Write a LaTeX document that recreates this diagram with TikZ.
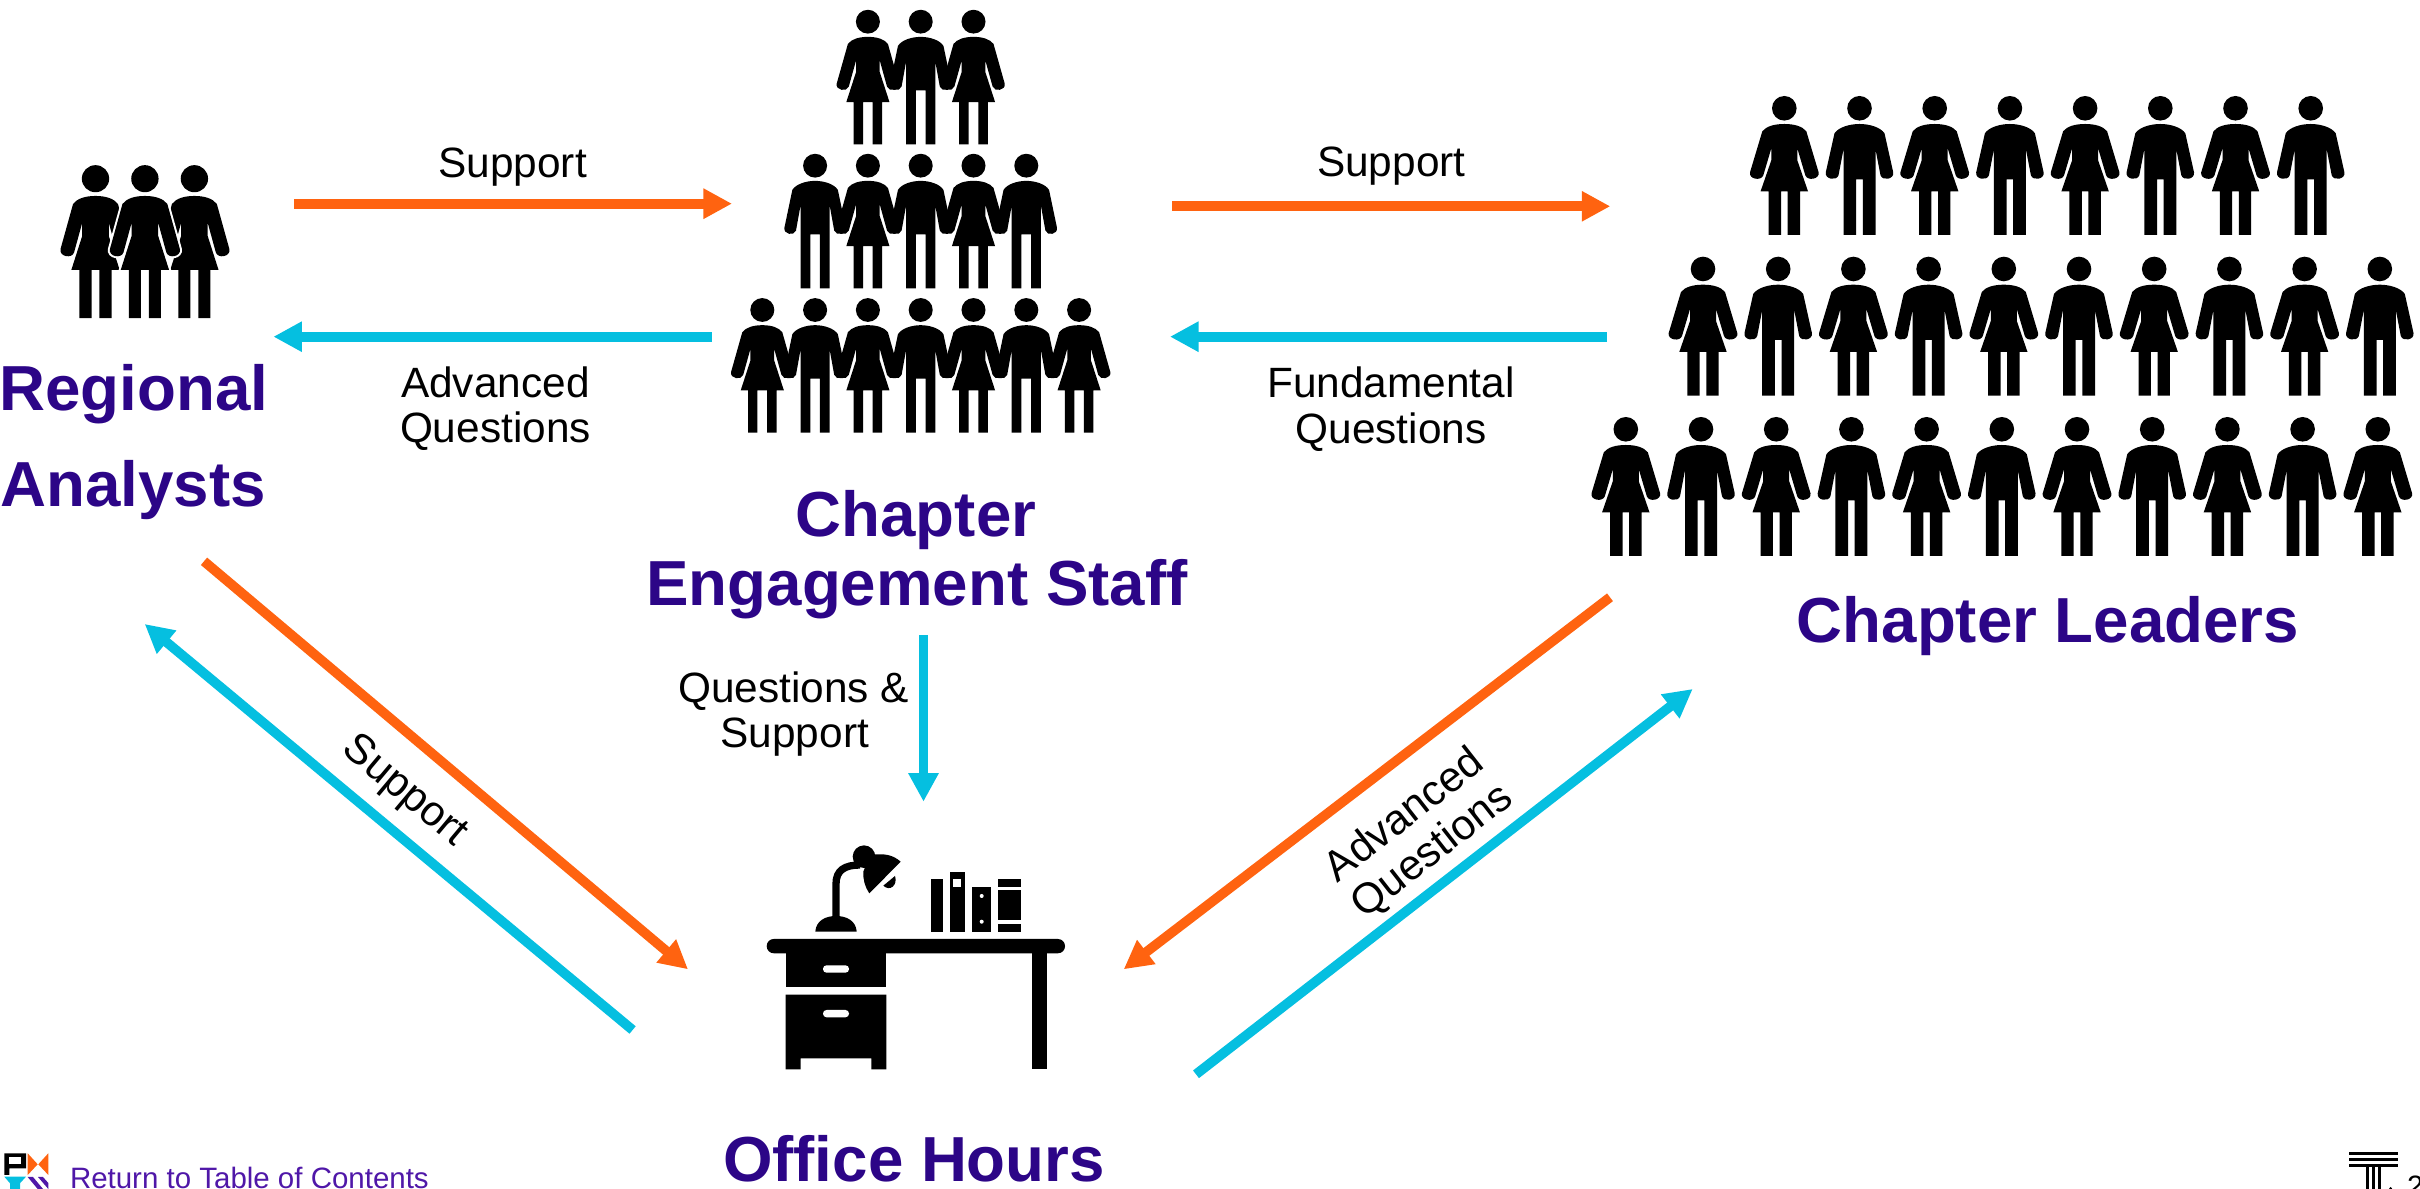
\documentclass[tikz,border=0pt]{standalone}
\usepackage{fontspec}
\setmainfont{Liberation Sans}
\usetikzlibrary{arrows.meta}

\definecolor{pmiorange}{HTML}{FF6310}
\definecolor{pmicyan}{HTML}{05BFE0}
\definecolor{pmipurple}{HTML}{2C0587}
\definecolor{linkpurple}{HTML}{4F17A8}

\newcommand{\headrx}{12.3}
\newcommand{\legin}{3.3}

\tikzset{
  flow/.style={line width=0.97mm, -{Triangle[length=2.85mm, width=2.85mm]}},
  support/.style={flow, pmiorange},
  question/.style={flow, pmicyan},
  labeltxt/.style={inner sep=0, align=center, font=\fontsize{12.05}{12.87}\selectfont},
  titletxt/.style={inner sep=0, align=center, text=pmipurple, font=\bfseries\fontsize{18.1}{19.65}\selectfont},
  woman/.pic={
    \path[fill=black, pic actions] (0,0) ellipse ({\headrx} and 12.3);
    \path[fill=black, pic actions] (0,15.7) .. controls (10,15.7) and (18,18) .. (22,23) -- (34.3,64)
      .. controls (35.8,71) and (23,73) .. (21,67) -- (13,40) -- (13,52) -- (23.7,83) -- (15.7,83)
      -- (15.7,126.7) -- (\legin,126.7) -- (\legin,83) -- (-\legin,83) -- (-\legin,126.7) -- (-15.7,126.7)
      -- (-15.7,83) -- (-23.7,83) -- (-13,52) -- (-13,40) -- (-21,67)
      .. controls (-23,73) and (-35.8,71) .. (-34.3,64) -- (-22,23)
      .. controls (-18,18) and (-10,15.7) .. (0,15.7) -- cycle;
  },
  man/.pic={
    \path[fill=black, pic actions] (0,0) ellipse ({\headrx} and 12.3);
    \path[fill=black, pic actions] (0,15.7) .. controls (10,15.7) and (21,19) .. (25,25) -- (33.7,64)
      .. controls (35,71) and (23,73) .. (21,67) -- (16,41) -- (16,126.7) -- (\legin,126.7)
      -- (\legin,71) -- (-\legin,71) -- (-\legin,126.7) -- (-16,126.7) -- (-16,41) -- (-21,67)
      .. controls (-23,73) and (-35,71) .. (-33.7,64) -- (-25,25)
      .. controls (-21,19) and (-10,15.7) .. (0,15.7) -- cycle;
  },
}

\begin{document}
\begin{tikzpicture}[x=0.01cm, y=-0.01cm]
\useasboundingbox (0,0) rectangle (2420,1189);
\clip (0,0) rectangle (2420,1189);

% regional analysts
\begin{scope}
\renewcommand{\headrx}{13.4}
\renewcommand{\legin}{3.9}
\pic[xscale=1.02, yscale=1.1] at (95.5,178.7) {woman};
\pic[xscale=1.02, yscale=1.1] at (194.4,178.7) {woman};
\pic[xscale=1.02, yscale=1.1, draw=white, line width=0.4mm] at (144.9,178.7) {woman};
\pic[xscale=1.02, yscale=1.1] at (144.9,178.7) {woman};
\end{scope}

% chapter engagement staff
\begin{scope}
\renewcommand{\headrx}{13.2}
\renewcommand{\legin}{5.3}
\foreach \row/\y/\kmax in {1/21.7/1, 2/165.7/2, 3/310/3} {
  \foreach \k in {-\kmax,...,\kmax} {
    \pgfmathtruncatemacro{\odd}{mod(abs(\k),2)}
    \ifnum\odd=1
      \pic[xscale=.91, yscale=.968] at ({920.7+\k*52.8},\y) {woman};
    \else
      \pic[xscale=.91, yscale=.968] at ({920.7+\k*52.8},\y) {man};
    \fi
  }
}
\end{scope}

% chapter leaders
\foreach \xstart/\y/\n in {1784.3/108.3/7, 1703/269/9, 1625.8/429.3/10} {
  \foreach \k in {0,...,\n} {
    \pgfmathtruncatemacro{\odd}{mod(\k,2)}
    \ifnum\odd=0
      \pic at ({\xstart+\k*75.2},\y) {woman};
    \else
      \pic at ({\xstart+\k*75.2},\y) {man};
    \fi
  }
}

% desk
\fill[rounded corners=2pt] (766.7,939) rectangle (1065,953.3);
\fill (785.7,950) rectangle (886.3,987);
\fill (785.7,994.7) -- (886.3,994.7) -- (886.3,1069.3) -- (871.3,1069.3) -- (871.3,1058.3)
  -- (800.7,1058.3) -- (800.7,1069.3) -- (785.7,1069.3) -- cycle;
\fill (1032,950) rectangle (1046.7,1069.3);
\fill[white, rounded corners=1pt] (823,965.3) rectangle (849,972.7);
\fill[white, rounded corners=1pt] (823,1010) rectangle (849,1017.3);

% books
\fill (931,879) rectangle (943,931.7);
\fill (949.7,871.7) rectangle (965,931.7);
\fill[white] (953.3,879) rectangle (961.3,886.7);
\fill (972.3,886.7) rectangle (991,931.7);
\fill[white] (981.7,896) circle (2);
\fill[white] (981.7,921.7) circle (2);
\fill (998,879) rectangle (1021,886.7);
\fill (998,890) rectangle (1021,920);
\fill (998,924) rectangle (1021,931.7);

% lamp
\fill (815.3,931.7) .. controls (816,921) and (825,916) .. (836,916)
  .. controls (847,916) and (856,921) .. (856.7,931.7) -- cycle;
\draw[line width=0.73mm] (836,925) -- (836,884) .. controls (836,870) and (845,865) .. (860,865);
\fill (864,856.7) circle (11.3);
\fill (869.3,893.3) -- (900.7,861.7) .. controls (893,855) and (885,853) .. (870,855)
  -- (863.3,871.7) .. controls (863,880) and (865,887) .. (869.3,893.3) -- cycle;
\fill (883.3,885.7) -- (895,876) .. controls (898,885) and (890,892) .. (883.3,885.7) -- cycle;

% titles
\node[titletxt, anchor=base] (regional) at (134,411) {Regional};
\node[titletxt, anchor=base] (analysts) at (133,507) {Analysts};
\node[titletxt, anchor=base] (chapter) at (916,536.7) {Chapter};
\node[titletxt, anchor=base] (engagement) at (917,606) {Engagement Staff};
\node[titletxt, anchor=base] (leaders) at (2048,642.3) {Chapter Leaders};
\node[titletxt, anchor=base] (office) at (914,1181.7) {Office Hours};

% arrow ends
\coordinate (a1) at (294.2,203.7);
\coordinate (a2) at (732,203.7);
\coordinate (b1) at (711.6,336.7);
\coordinate (b2) at (273.4,336.7);
\coordinate (c1) at (1172.3,206.3);
\coordinate (c2) at (1610.3,206.3);
\coordinate (d1) at (1607,336.7);
\coordinate (d2) at (1170,336.7);
\coordinate (e1) at (923.5,635);
\coordinate (e2) at (923.5,801.7);
\coordinate (f1) at (204,561.3);
\coordinate (f2) at (688,969.3);
\coordinate (g1) at (632.6,1030);
\coordinate (g2) at (144.7,624);
\coordinate (h1) at (1610,597.3);
\coordinate (h2) at (1123.7,969.3);
\coordinate (i1) at (1196,1074.3);
\coordinate (i2) at (1692.7,689);

\draw[support] (a1) -- (a2);
\draw[question] (b1) -- (b2);
\draw[support] (c1) -- (c2);
\draw[question] (d1) -- (d2);
\draw[question] (e1) -- (e2);
\draw[support] (f1) -- (f2);
\draw[question] (g1) -- (g2);
\draw[support] (h1) -- (h2);
\draw[question] (i1) -- (i2);

% labels
\node[labeltxt, anchor=base] (sup1) at (512.6,177.7) {Support};
\node[labeltxt, anchor=base] (sup2) at (1391.3,177) {Support};
\node[labeltxt, anchor=base] (adv1) at (495.4,397.3) {Advanced};
\node[labeltxt, anchor=base] (que1) at (495.4,442.7) {Questions};
\node[labeltxt, anchor=base] (fun1) at (1391,397.7) {Fundamental};
\node[labeltxt, anchor=base] (que2) at (1391,443.2) {Questions};
\node[labeltxt, anchor=base] (que3) at (793.7,702.3) {Questions \&};
\node[labeltxt, anchor=base] (sup3) at (794.7,747.7) {Support};
\node[labeltxt, rotate=-40] (sup4) at (404.5,791.7) {Support};
\node[labeltxt, rotate=38] (adv2) at (1419,834) {Advanced\\Questions};

% footer logo
\fill (4.3,1153.3) -- (26,1153.3) -- (26,1168.3) -- (9.3,1168.3) -- (9.3,1175) -- (4.3,1175) -- cycle;
\fill[white] (9.3,1157.3) rectangle (20.7,1164.3);
\fill[pmiorange] (27.7,1153.3) -- (37.7,1164.3) -- (27.7,1175) -- cycle;
\fill[pmiorange] (48.3,1153.3) -- (38.3,1164.3) -- (48.3,1175) -- cycle;
\fill[pmicyan] (4.3,1176.7) -- (26,1176.7) -- (20,1183.3) -- (20,1189) -- (10,1189) -- (10,1183.3) -- cycle;
\fill[linkpurple] (27.7,1177) -- (33,1177) -- (43,1189) -- (37.7,1189) -- cycle;
\fill[linkpurple] (38,1177) -- (43,1177) -- (48.3,1183) -- (48.3,1189) -- cycle;
\node[inner sep=0, anchor=base west, text=linkpurple, font=\fontsize{8.38}{10}\selectfont] (toc) at (69.3,1189) {Return to Table of Contents};

% footer mark
\fill (2349.3,1152.3) rectangle (2397.7,1155.3);
\fill (2349.3,1158.3) rectangle (2397.7,1161.3);
\fill (2349.3,1164.3) rectangle (2397.7,1167.3);
\fill (2366,1167.3) rectangle (2369,1189);
\fill (2372,1167.3) rectangle (2375,1189);
\fill (2378,1167.3) rectangle (2381,1189);
\fill (2390.5,1188.5) circle (1.5);
\node[inner sep=0, anchor=base west, font=\fontsize{8.38}{10}\selectfont] (pagenum) at (2406.5,1197) {2};

\end{tikzpicture}
\end{document}
